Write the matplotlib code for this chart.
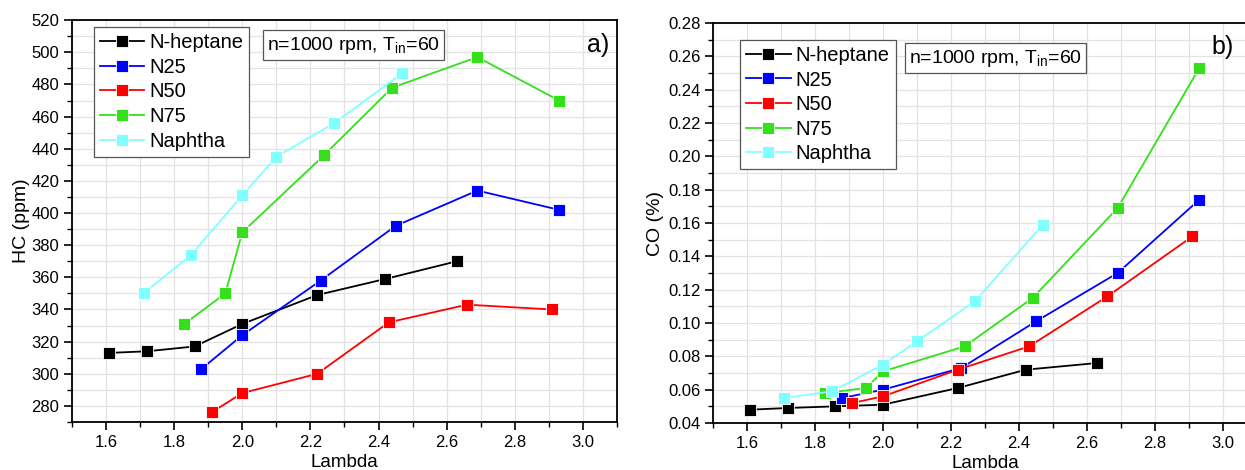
import matplotlib
matplotlib.use("Agg")
import matplotlib.pyplot as plt
from matplotlib.ticker import MultipleLocator

plt.rcParams['font.family'] = ['Liberation Sans', 'DejaVu Sans']
plt.rcParams['mathtext.fontset'] = 'custom'
plt.rcParams['mathtext.rm'] = 'Liberation Sans'
plt.rcParams['mathtext.it'] = 'Liberation Sans'

series_names = ["N-heptane", "N25", "N50", "N75", "Naphtha"]
colors = ["#000000", "#0000ff", "#ff0000", "#33e01a", "#80ffff"]

# lambda values per fuel
lam_hep = [1.61, 1.72, 1.86, 2.00, 2.22, 2.42, 2.63]
lam_n25 = [1.88, 2.00, 2.23, 2.45, 2.69, 2.93]
lam_n50 = [1.91, 2.00, 2.22, 2.43, 2.66, 2.91]
lam_n75 = [1.83, 1.95, 2.00, 2.24, 2.44, 2.69, 2.93]
lam_nap = [1.71, 1.85, 2.00, 2.10, 2.27, 2.47]

# HC (ppm)
hc_hep = [313, 314, 317, 331, 349, 359, 370]
hc_n25 = [303, 324, 358, 392, 414, 402]
hc_n50 = [276, 288, 300, 332, 343, 340]
hc_n75 = [331, 350, 388, 436, 478, 497, 470]
hc_nap = [350, 374, 411, 435, 456, 487]

# CO (%)
co_hep = [0.048, 0.049, 0.050, 0.051, 0.061, 0.072, 0.076]
co_n25 = [0.055, 0.060, 0.073, 0.101, 0.130, 0.174]
co_n50 = [0.052, 0.056, 0.072, 0.086, 0.116, 0.152]
co_n75 = [0.058, 0.061, 0.071, 0.086, 0.115, 0.169, 0.253]
co_nap = [0.055, 0.059, 0.075, 0.089, 0.113, 0.159]

lams = [lam_hep, lam_n25, lam_n50, lam_n75, lam_nap]
hcs = [hc_hep, hc_n25, hc_n50, hc_n75, hc_nap]
cos = [co_hep, co_n25, co_n50, co_n75, co_nap]

fig = plt.figure(figsize=(12.45, 4.70), dpi=100)
ax1 = fig.add_axes([0.0578, 0.1021, 0.4378, 0.855])
ax2 = fig.add_axes([0.5727, 0.100, 0.437, 0.851])


def style(ax, ylim, ymaj, ymin):
    ax.set_xlim(1.5, 3.1)
    ax.set_ylim(*ylim)
    ax.xaxis.set_major_locator(MultipleLocator(0.2))
    ax.xaxis.set_minor_locator(MultipleLocator(0.1))
    ax.yaxis.set_major_locator(MultipleLocator(ymaj))
    ax.yaxis.set_minor_locator(MultipleLocator(ymin))
    ax.grid(True, which='both', color='#e3e3e3', linewidth=0.9)
    ax.set_axisbelow(True)
    ax.tick_params(which='major', direction='out', length=6, width=1.2,
                   labelsize=12, pad=3)
    ax.tick_params(which='minor', direction='out', length=3.5, width=1.0)
    for s in ax.spines.values():
        s.set_linewidth(1.3)
    ax.set_xlabel("Lambda", fontsize=13.5, labelpad=3)


for ax, ys in [(ax1, hcs), (ax2, cos)]:
    for name, c, x, y in zip(series_names, colors, lams, ys):
        ax.plot(x, y, color=c, marker='s', markersize=8.5, linewidth=1.3,
                markeredgecolor='#ffffff', markeredgewidth=0.6, label=name)

style(ax1, (270, 520), 20, 10)
ax1.yaxis.set_major_formatter(plt.FormatStrFormatter('%d'))
ax1.set_ylabel("HC (ppm)", fontsize=14, labelpad=1)
style(ax2, (0.04, 0.28), 0.02, 0.01)
ax2.yaxis.set_major_formatter(plt.FormatStrFormatter('%.2f'))
ax2.set_ylabel("CO (%)", fontsize=14, labelpad=3)

for ax, lx, ly in [(ax1, 0.040, 0.983), (ax2, 0.05, 0.958)]:
    leg = ax.legend(loc='upper left', bbox_to_anchor=(lx, ly), fontsize=14.5,
                    numpoints=1, handlelength=2.2, handletextpad=0.25,
                    labelspacing=0.28, borderpad=0.3, borderaxespad=0,
                    fancybox=False, framealpha=1, edgecolor='#555555')
    leg.get_frame().set_linewidth(0.9)

box = dict(boxstyle='square,pad=0.22', facecolor='white', edgecolor='#555555', linewidth=0.9)
ax1.text(0.358, 0.938, r"n=1000 rpm, T$_{\mathrm{in}}$=60", transform=ax1.transAxes,
         fontsize=14, va='center', ha='left', bbox=box)
ax2.text(0.36, 0.912, r"n=1000 rpm, T$_{\mathrm{in}}$=60", transform=ax2.transAxes,
         fontsize=14, va='center', ha='left', bbox=box)

ax1.text(0.965, 0.938, "a)", transform=ax1.transAxes, fontsize=18, ha='center', va='center')
ax2.text(0.936, 0.94, "b)", transform=ax2.transAxes, fontsize=18, ha='center', va='center')

fig.savefig("out.png", dpi=100)
